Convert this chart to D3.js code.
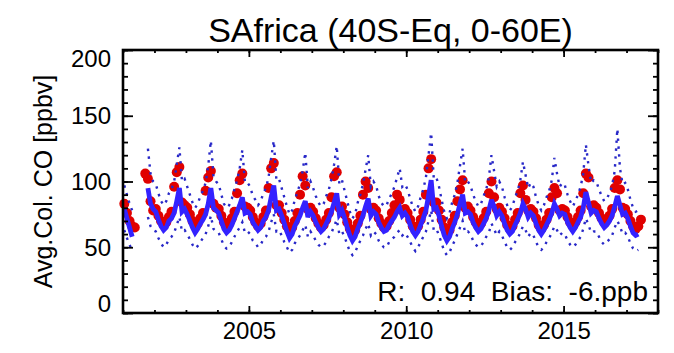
<!DOCTYPE html>
<html>
<head>
<meta charset="utf-8">
<script src="https://cdn.jsdelivr.net/npm/d3@7"></script>
<style>
  html, body { margin: 0; padding: 0; background: #fff; }
  svg text { font-family: "Liberation Sans", Arial, Helvetica, sans-serif; fill: #000; }
</style>
</head>
<body>
<svg id="chart" width="674" height="353"></svg>
<script>
// ---- Data (monthly, Jan 2001 .. Dec 2017; null = no data) ----
const startYear = 2001;
const titleText = "SAfrica (40S-Eq, 0-60E)";
const yLabelText = "Avg.Col. CO [ppbv]";
const statsText = "R:  0.94  Bias:  -6.ppb";
const xTickLabels = [2005, 2010, 2015];
const yTickLabels = [0, 50, 100, 150, 200];

const N = null;
// Observations (red dots)
const obsCO = [
  83, 76, 70, 66, 65, N, N, N, 106, 102, 85, 78,
  79, 74, 70, 67, 69, 73, 77, 96, 107, 111, 84, 82,
  80, 75, 70, 67, 68, 72, 76, 93, 103, 108, 83, 80,
  79, 74, 69, 66, 68, 72, 77, 91, 101, 106, 81, 80,
  78, 73, 69, 66, 68, 73, 78, 95, 110, 114, 82, 82,
  76, 71, 66, 63, 65, 70, 76, 90, 104, 97, 79, 80,
  77, 72, 68, 65, 67, 71, 76, 88, 104, 107, 80, 81,
  75, 69, 64, 61, 63, 68, 74, 90, 100, 95, 79, 80,
  78, 72, 68, 65, 66, 70, 76, 82, 90, 86, 78, 79,
  76, 71, 66, 63, 66, 71, 77, 90, 110, 117, 84, 84,
  78, 71, 65, 61, 63, 69, 74, 85, 94, 101, 80, 81,
  78, 73, 69, 66, 68, 72, 77, 91, 100, 88, 79, 80,
  77, 72, 67, 64, 66, 71, 76, 91, 97, 86, 78, 79,
  77, 72, 67, 64, 67, 71, 76, 88, 95, 91, 78, 79,
  78, 73, 69, 66, 69, 73, 78, 91, 106, 103, 81, 82,
  80, 76, 72, 69, 71, 74, 79, 95, 101, 94, 80, 79,
  75, 70, 66, 64, 66, 71, N, N, N, N, N, N
];
// Model (thick blue line)
const modelCO = [
  79, 72, 65, 58, N, N, N, N, N, 95, 83, 79,
  77, 71, 66, 63, 65, 70, 72, 76, 85, 95, 77, 79,
  75, 70, 65, 61, 64, 68, 71, 75, 83, 95, 80, 78,
  76, 70, 64, 61, 63, 67, 72, 77, 82, 88, 76, 77,
  75, 69, 66, 63, 65, 70, 73, 78, 88, 97, 78, 79,
  74, 68, 62, 57, 60, 66, 70, 74, 80, 85, 73, 77,
  74, 69, 65, 62, 64, 68, 72, 77, 84, 91, 75, 78,
  72, 65, 59, 55, 58, 64, 69, 74, 81, 87, 74, 77,
  75, 69, 65, 62, 63, 67, 70, 73, 77, 80, 74, 76,
  73, 67, 62, 59, 62, 67, 72, 78, 89, 101, 79, 80,
  74, 66, 59, 55, 58, 64, 69, 75, 83, 90, 76, 77,
  75, 69, 65, 62, 64, 68, 72, 78, 86, 81, 74, 77,
  74, 68, 63, 60, 62, 67, 71, 76, 83, 79, 73, 76,
  74, 68, 63, 60, 63, 67, 71, 76, 83, 79, 74, 76,
  75, 69, 65, 62, 65, 69, 73, 80, 92, 84, 76, 78,
  77, 72, 68, 65, 67, 70, 74, 81, 89, 82, 75, 76,
  72, 66, 61, 59, 60, N, N, N, N, N, N, N
];
// Model upper envelope (dotted)
const modelHi = [
  97, 90, 83, 78, N, N, N, N, N, 125, 106, 100,
  98, 91, 85, 82, 85, 91, 94, 100, 113, 126, 100, 102,
  96, 90, 84, 80, 83, 89, 93, 99, 112, 131, 104, 100,
  98, 90, 83, 80, 82, 87, 94, 101, 110, 124, 99, 99,
  96, 89, 86, 82, 85, 91, 95, 103, 118, 131, 101, 102,
  95, 88, 81, 75, 78, 86, 92, 98, 108, 122, 95, 100,
  95, 89, 84, 81, 83, 89, 94, 102, 113, 127, 98, 101,
  93, 85, 77, 72, 75, 84, 90, 98, 109, 120, 96, 100,
  97, 89, 84, 81, 82, 87, 91, 96, 103, 110, 96, 98,
  94, 87, 81, 77, 81, 88, 94, 103, 120, 137, 102, 103,
  96, 86, 77, 72, 76, 84, 90, 99, 112, 125, 99, 100,
  97, 90, 85, 81, 83, 89, 94, 103, 120, 108, 96, 100,
  96, 88, 82, 78, 81, 88, 93, 101, 115, 105, 95, 99,
  96, 88, 82, 78, 82, 88, 93, 101, 118, 106, 96, 99,
  97, 90, 85, 81, 85, 90, 96, 106, 128, 112, 99, 101,
  100, 94, 89, 85, 87, 91, 97, 108, 140, 110, 98, 99,
  94, 86, 80, 77, 78, N, N, N, N, N, N, N
];
// Model lower envelope (dotted)
const modelLo = [
  63, 57, 52, 47, N, N, N, N, N, 73, 66, 63,
  62, 57, 53, 50, 52, 56, 58, 61, 67, 73, 62, 63,
  60, 56, 52, 49, 51, 54, 57, 60, 66, 74, 64, 62,
  61, 56, 51, 49, 50, 54, 58, 62, 65, 69, 61, 62,
  60, 55, 53, 50, 52, 56, 58, 62, 69, 75, 62, 63,
  59, 54, 50, 46, 48, 53, 56, 59, 63, 67, 58, 62,
  59, 55, 52, 50, 51, 54, 58, 61, 66, 71, 60, 62,
  58, 52, 47, 44, 46, 51, 55, 59, 64, 68, 59, 62,
  60, 55, 52, 50, 50, 54, 56, 58, 61, 63, 59, 61,
  58, 54, 50, 47, 50, 54, 58, 62, 70, 78, 63, 64,
  59, 53, 47, 44, 46, 51, 55, 60, 65, 70, 61, 62,
  60, 55, 52, 50, 51, 54, 58, 61, 68, 64, 59, 62,
  59, 54, 50, 48, 50, 54, 57, 61, 66, 63, 58, 61,
  59, 54, 50, 48, 50, 54, 57, 61, 66, 63, 59, 61,
  60, 55, 52, 50, 52, 55, 58, 64, 72, 67, 61, 62,
  62, 58, 54, 52, 54, 56, 59, 65, 70, 66, 60, 61,
  58, 53, 49, 47, 48, N, N, N, N, N, N, N
];

// ---- Layout ----
const svg = d3.select("#chart");
const L = 123, R = 658, T = 50, B = 313;
const x = d3.scaleLinear().domain([2001, 2018]).range([L, R]);
const y = d3.scaleLinear().domain([0, 200]).range([B, T]);

const tOf = i => startYear + (i + 0.5) / 12;
const pts = arr => arr.map((v, i) => ({ t: tOf(i), v }));

const line = d3.line()
  .defined(d => d.v !== null)
  .x(d => x(d.t)).y(d => y(d.v));

const plot = svg.append("g");

// red observation dots
plot.append("g").selectAll("circle")
  .data(pts(obsCO).filter(d => d.v !== null))
  .join("circle")
  .attr("cx", d => x(d.t)).attr("cy", d => y(d.v))
  .attr("r", 5).attr("fill", "#e00000");

// dotted envelopes
[modelHi, modelLo].forEach(arr => {
  plot.append("path").datum(pts(arr))
    .attr("d", line).attr("fill", "none")
    .attr("stroke", "#2828c8").attr("stroke-width", 2.4)
    .attr("stroke-dasharray", "2.4 5.5");
});

// thick model line
plot.append("path").datum(pts(modelCO))
  .attr("d", line).attr("fill", "none")
  .attr("stroke", "#3322ff").attr("stroke-width", 4.8)
  .attr("stroke-linejoin", "miter").attr("stroke-miterlimit", 3);

// ---- Axes ----
const years = d3.range(2001, 2019);
const minorY = d3.range(0, 201, 10);
const axisStyle = g => {
  g.select(".domain").remove();
  g.selectAll(".tick line").attr("stroke", "#000").attr("stroke-width", 1.8);
};

// bottom minor & major
svg.append("g").attr("transform", `translate(0,${B})`)
  .call(d3.axisBottom(x).tickValues(years).tickSize(-3).tickFormat(""))
  .call(axisStyle);
const xb = svg.append("g").attr("transform", `translate(0,${B})`)
  .call(d3.axisBottom(x).tickValues(xTickLabels).tickSize(-7).tickPadding(9).tickFormat(d3.format("d")))
  .call(axisStyle);
xb.selectAll("text").attr("font-size", 24).attr("font-family", null);

// top
svg.append("g").attr("transform", `translate(0,${T})`)
  .call(d3.axisTop(x).tickValues(years).tickSize(-3).tickFormat(""))
  .call(axisStyle);
svg.append("g").attr("transform", `translate(0,${T})`)
  .call(d3.axisTop(x).tickValues(xTickLabels).tickSize(-7).tickFormat(""))
  .call(axisStyle);

// left
svg.append("g").attr("transform", `translate(${L},0)`)
  .call(d3.axisLeft(y).tickValues(minorY).tickSize(-5).tickFormat(""))
  .call(axisStyle);
const yl = svg.append("g").attr("transform", `translate(${L},0)`)
  .call(d3.axisLeft(y).tickValues(yTickLabels).tickSize(-10).tickPadding(12).tickFormat(d3.format("d")))
  .call(axisStyle);
yl.selectAll("text").attr("font-size", 24).attr("font-family", null)
  .attr("dy", d => d === 0 ? "-0.05em" : (d === 200 ? "0.68em" : "0.34em"));

// right
svg.append("g").attr("transform", `translate(${R},0)`)
  .call(d3.axisRight(y).tickValues(minorY).tickSize(-5).tickFormat(""))
  .call(axisStyle);
svg.append("g").attr("transform", `translate(${R},0)`)
  .call(d3.axisRight(y).tickValues(yTickLabels).tickSize(-10).tickFormat(""))
  .call(axisStyle);

// frame
svg.append("rect")
  .attr("x", L).attr("y", T).attr("width", R - L).attr("height", B - T)
  .attr("fill", "none").attr("stroke", "#000").attr("stroke-width", 2.6);

// ---- Texts ----
svg.append("text")
  .attr("x", (L + R) / 2).attr("y", 42)
  .attr("text-anchor", "middle").attr("font-size", 34)
  .text(titleText);

svg.append("text")
  .attr("transform", `translate(52,${(T + B) / 2}) rotate(-90)`)
  .attr("text-anchor", "middle").attr("font-size", 25)
  .style("white-space", "pre")
  .text(yLabelText);

svg.append("text")
  .attr("x", 648).attr("y", 301)
  .attr("text-anchor", "end").attr("font-size", 28)
  .style("white-space", "pre")
  .text(statsText);
</script>
</body>
</html>
